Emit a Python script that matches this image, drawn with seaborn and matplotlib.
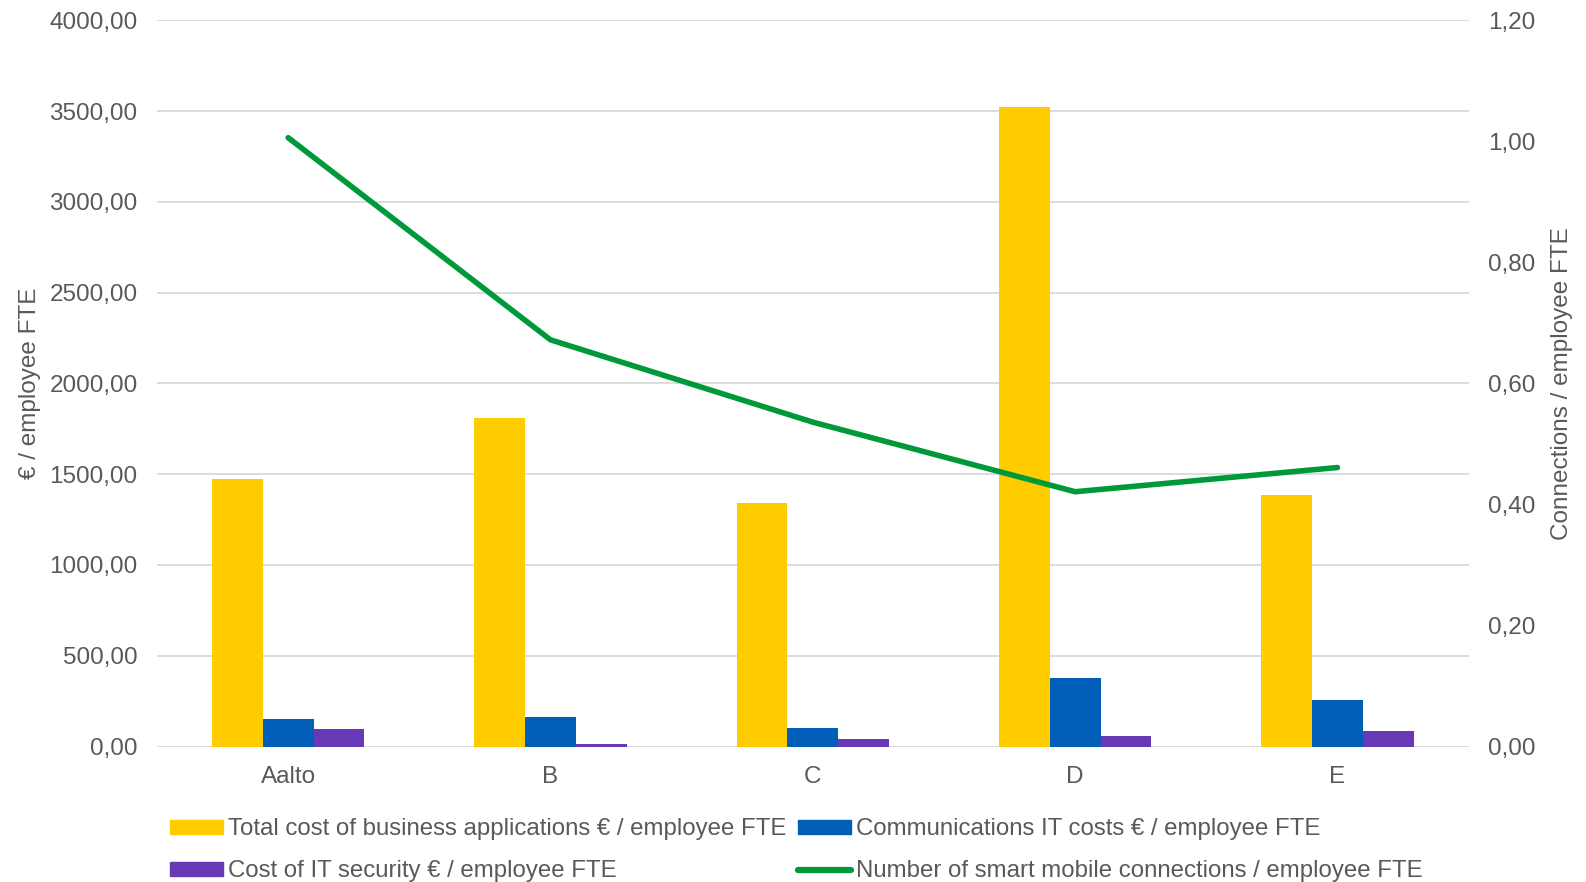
import pandas as pd
import matplotlib.pyplot as plt
import seaborn as sns
import numpy as np
from matplotlib.patches import Patch
from matplotlib.lines import Line2D
from matplotlib.ticker import FuncFormatter

# Dados
categorias = ['Aalto', 'B', 'C', 'D', 'E']
custo_aplicacoes = [1473, 1808, 1339, 3524, 1384]
custo_comunicacoes = [149, 163, 101, 379, 256]
custo_seguranca = [94, 13, 40, 57, 84]
conexoes_moveis = [1.006, 0.672, 0.536, 0.421, 0.461]

serie_nomes = ['Total cost of business applications € / employee FTE',
               'Communications IT costs € / employee FTE',
               'Cost of IT security € / employee FTE']
linha_nome = 'Number of smart mobile connections / employee FTE'

cores = ['#FFCC00', '#005EB8', '#6739B6']
cor_linha = '#00993A'
cinza = '#595959'

df = pd.DataFrame({
    'categoria': categorias * 3,
    'valor': custo_aplicacoes + custo_comunicacoes + custo_seguranca,
    'serie': [serie_nomes[0]] * 5 + [serie_nomes[1]] * 5 + [serie_nomes[2]] * 5,
})

sns.set_style('white')
plt.rcParams['font.family'] = ['Liberation Sans', 'DejaVu Sans']

fig = plt.figure(figsize=(15.86, 8.82), dpi=100)
ax = fig.add_axes([0.099, 0.1536, 0.827, 0.8234])

sns.barplot(data=df, x='categoria', y='valor', hue='serie', palette=cores,
            width=0.58, gap=0, saturation=1, linewidth=0, ax=ax, legend=False)

ax.set_ylim(0, 4000)
ax.set_xlim(-0.5, 4.5)
ax.set_yticks(np.arange(0, 4001, 500))
ax.yaxis.set_major_formatter(FuncFormatter(lambda v, p: f'{v:.2f}'.replace('.', ',')))
ax.grid(axis='y', color='#d9d9d9', lw=1.3)
ax.set_axisbelow(True)
for s in ax.spines.values():
    s.set_visible(False)
ax.tick_params(axis='both', length=0, labelsize=17.5, colors=cinza, pad=14)
ax.tick_params(axis='x', pad=14)
ax.set_xlabel('')
ax.set_ylabel('€ / employee FTE', fontsize=17.5, color=cinza, labelpad=6)

# Linha no eixo secundário
ax2 = ax.twinx()
sns.lineplot(x=np.arange(len(categorias)), y=conexoes_moveis, color=cor_linha,
             lw=4, ax=ax2)
ax2.set_ylim(0, 1.2)
ax2.set_yticks(np.arange(0, 1.21, 0.2))
ax2.yaxis.set_major_formatter(FuncFormatter(lambda v, p: f'{v:.2f}'.replace('.', ',')))
for s in ax2.spines.values():
    s.set_visible(False)
ax2.tick_params(axis='y', length=0, labelsize=17.5, colors=cinza, pad=14)
ax2.set_ylabel('Connections / employee FTE', fontsize=17.5, color=cinza, labelpad=11)

# Legenda
handles = [Patch(color=cores[0]), Patch(color=cores[2]),
           Patch(color=cores[1]), Line2D([], [], color=cor_linha, lw=4.5)]
labels = [serie_nomes[0], serie_nomes[2], serie_nomes[1], linha_nome]
fig.legend(handles, labels, ncol=2, loc='upper left', bbox_to_anchor=(0.107, 0.072),
           frameon=False, fontsize=17.3, labelcolor=cinza, handlelength=2.2,
           handleheight=0.5, handletextpad=0.22, columnspacing=0.5, labelspacing=0.82,
           borderaxespad=0, borderpad=0)

plt.savefig('out.png', dpi=100)
